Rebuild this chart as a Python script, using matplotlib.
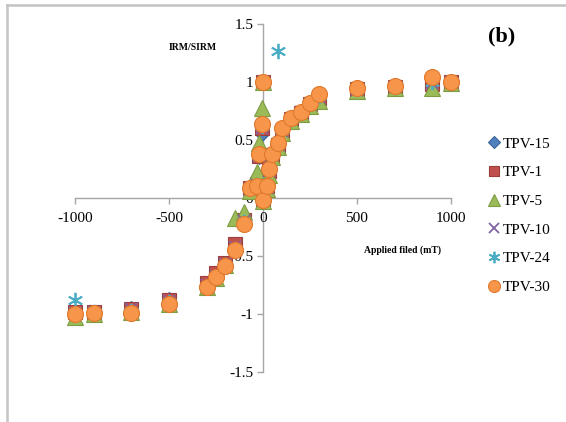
import matplotlib
matplotlib.use("Agg")
import matplotlib.pyplot as plt
from matplotlib.lines import Line2D

plt.rcParams["font.family"] = ["Liberation Serif", "DejaVu Serif"]

# Backfield (negative) and acquisition (positive) steps, mT
back_field = [-1000, -900, -700, -500, -300, -250, -200, -150, -100, -70, -30, -20, -5, 0]
acq_field = [0, 20, 30, 50, 80, 100, 150, 200, 250, 300, 500, 700, 900, 1000]

# IRM/SIRM per sample: backfield branch, then acquisition branch
tpv15_back = [-0.99, -0.98, -0.95, -0.87, -0.75, -0.67, -0.57, -0.42, -0.20, 0.08, 0.12, 0.35, 0.55, 1.00]
tpv15_acq = [-0.01, 0.09, 0.22, 0.36, 0.45, 0.57, 0.67, 0.73, 0.80, 0.87, 0.93, 0.96, 0.98, 1.00]

tpv1_back = [-0.98, -0.98, -0.96, -0.88, -0.73, -0.65, -0.56, -0.40, -0.19, 0.09, 0.12, 0.36, 0.60, 1.00]
tpv1_acq = [-0.01, 0.10, 0.23, 0.37, 0.46, 0.58, 0.68, 0.73, 0.81, 0.86, 0.94, 0.96, 0.98, 1.00]

tpv5_back = [-1.03, -1.00, -0.98, -0.91, -0.77, -0.69, -0.58, -0.17, -0.12, 0.06, 0.22, 0.47, 0.78, 1.00]
tpv5_acq = [-0.03, 0.08, 0.20, 0.35, 0.44, 0.56, 0.66, 0.72, 0.79, 0.84, 0.92, 0.95, 0.95, 0.99]

tpv10_back = [-0.99, -0.98, -0.96, -0.89, -0.75, -0.67, -0.57, -0.42, -0.20, 0.08, 0.11, 0.36, 0.60, 1.00]
tpv10_acq = [-0.02, 0.09, 0.23, 0.37, 0.46, 0.58, 0.68, 0.74, 0.81, 0.87, 0.93, 0.96, 0.99, 1.00]

tpv24_back = [-0.88, -0.98, -0.97, -0.90, -0.76, -0.68, -0.58, -0.44, -0.21, 0.09, 0.11, 0.37, 0.62, 1.00]
tpv24_acq = [-0.02, 0.10, 0.24, 0.37, 1.27, 0.59, 0.68, 0.74, 0.81, 0.88, 0.94, 0.96, 1.00, 1.00]

tpv30_back = [-1.00, -0.99, -0.99, -0.91, -0.77, -0.68, -0.59, -0.45, -0.22, 0.09, 0.10, 0.38, 0.64, 1.00]
tpv30_acq = [-0.02, 0.10, 0.25, 0.38, 0.47, 0.60, 0.69, 0.74, 0.82, 0.90, 0.95, 0.965, 1.04, 1.00]

labels = ["TPV-15", "TPV-1", "TPV-5", "TPV-10", "TPV-24", "TPV-30"]
backs = [tpv15_back, tpv1_back, tpv5_back, tpv10_back, tpv24_back, tpv30_back]
acqs = [tpv15_acq, tpv1_acq, tpv5_acq, tpv10_acq, tpv24_acq, tpv30_acq]

styles = [
    dict(marker="D", ms=7.5, mfc="#4F81BD", mec="#3A6598", mew=0.8),
    dict(marker="s", ms=10.5, mfc="#C0504D", mec="#9C3E3B", mew=0.8),
    dict(marker="^", ms=11, mfc="#9BBB59", mec="#7E9C44", mew=0.8),
    dict(marker="x", ms=9, mfc="none", mec="#8064A2", mew=1.3),
    dict(marker=(6, 2, 0), ms=11, mfc="none", mec="#4BACC6", mew=1.3),
    dict(marker="o", ms=11.5, mfc="#F7964A", mec="#E0782C", mew=0.8),
]

W, H = 566, 422
fig = plt.figure(figsize=(W / 100, H / 100), dpi=100)
fig.patch.set_facecolor("white")

# Chart area outline
fig.add_artist(Line2D([6.5 / W, 6.5 / W], [0, 1 - 5 / H], color="#C4C4C4", lw=1.8))
fig.add_artist(Line2D([6.5 / W, 1], [1 - 5 / H, 1 - 5 / H], color="#C4C4C4", lw=1.8))

x0, x1, y0, y1 = 75, 451, 24, 372
ax = fig.add_axes([x0 / W, 1 - y1 / H, (x1 - x0) / W, (y1 - y0) / H])
ax.set_facecolor("none")

for lab, b, a, st in zip(labels, backs, acqs, styles):
    ax.plot(back_field + acq_field, b + a, ls="none", label=lab, clip_on=False, **st)

ax.set_xlim(-1000, 1000)
ax.set_ylim(-1.5, 1.5)
for side in ("top", "right"):
    ax.spines[side].set_visible(False)
ax.spines["left"].set_position(("data", 0))
ax.spines["bottom"].set_position(("data", 0))
for side in ("left", "bottom"):
    ax.spines[side].set_color("#A6A6A6")
    ax.spines[side].set_linewidth(1.0)
    ax.spines[side].set_zorder(0.5)

ax.set_xticks([-1000, -500, 0, 500, 1000])
ax.set_xticklabels(["-1000", "-500", "0", "500", "1000"])
ax.set_yticks([-1.5, -1, -0.5, 0, 0.5, 1, 1.5])
ax.set_yticklabels(["-1.5", "-1", "-0.5", "0", "0.5", "1", "1.5"])
ax.tick_params(axis="x", direction="out", length=4, width=1, color="#A6A6A6",
               labelsize=11, pad=6)
ax.tick_params(axis="y", direction="out", length=4, width=1, color="#A6A6A6",
               labelsize=11, pad=3)

fig.text(193 / W, 1 - 47.5 / H, "IRM/SIRM", fontsize=7, fontweight="bold",
         ha="center", va="center")
fig.text(403 / W, 1 - 250 / H, "Applied filed (mT)", fontsize=7, fontweight="bold",
         ha="center", va="center")
fig.text(502 / W, 1 - 36 / H, "(b)", fontsize=16, fontweight="bold",
         ha="center", va="center")

handles = []
for lab, st in zip(labels, styles):
    s = dict(st)
    s["ms"] = s["ms"] * 0.75
    handles.append(Line2D([], [], ls="none", label=lab, **s))
fig.legend(handles=handles, loc="upper left", bbox_to_anchor=(487 / W, 1 - 137 / H),
           frameon=False, fontsize=11, handlelength=0.9, handletextpad=0.1,
           labelspacing=0.98, borderpad=0, borderaxespad=0)

fig.savefig("out.png", dpi=100)
